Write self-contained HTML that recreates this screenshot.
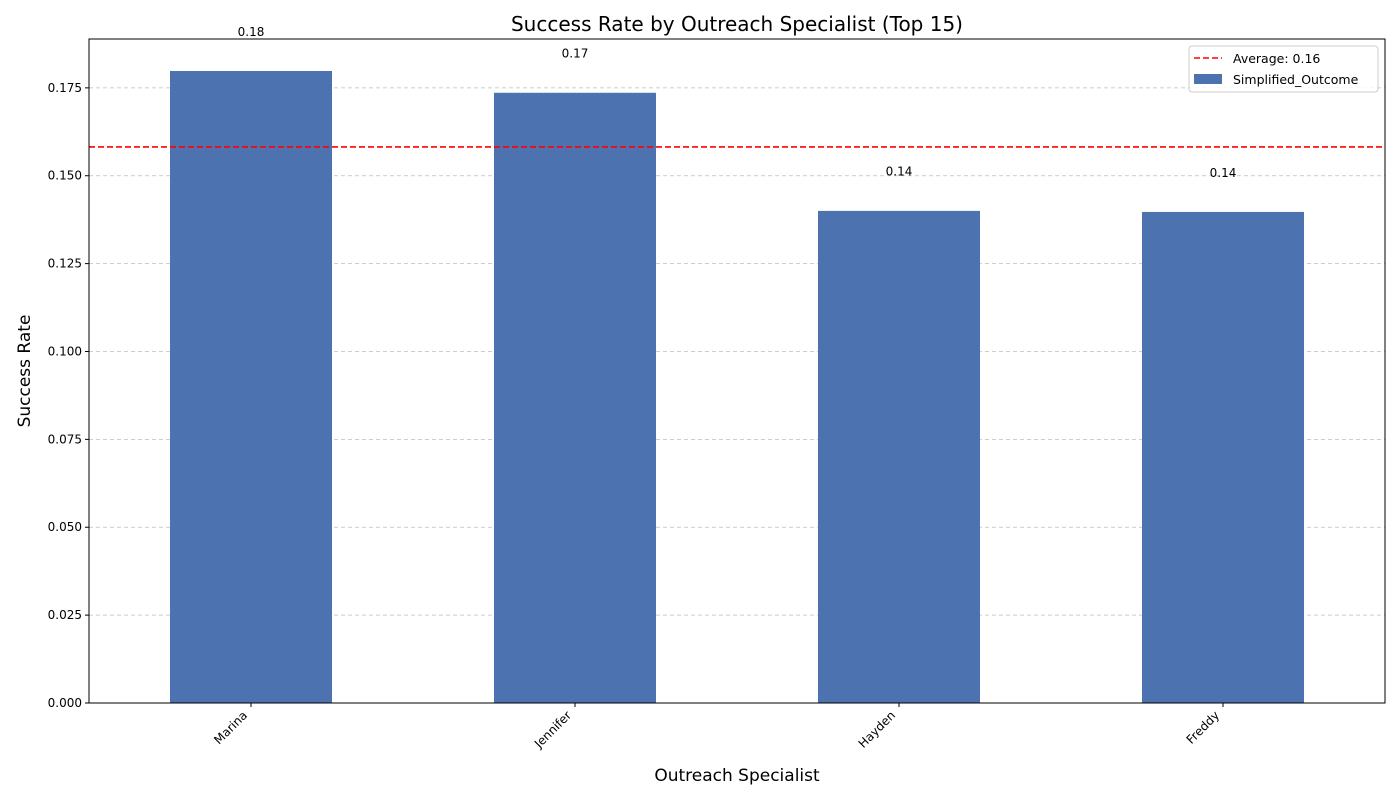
<!DOCTYPE html>
<html><head><meta charset="utf-8"><style>
body{margin:0;background:#fff;font-family:"DejaVu Sans","Liberation Sans",sans-serif;}
</style></head><body>
<svg id="c" width="1400" height="800" xmlns="http://www.w3.org/2000/svg" font-family="DejaVu Sans, Liberation Sans, sans-serif"></svg>
<script>
const categories=["Marina","Jennifer","Hayden","Freddy"];
const values=[0.1798,0.1736,0.1400,0.1397];
const labels=["0.18","0.17","0.14","0.14"];
const avgValue=0.1582;
const yTicks=[0,0.025,0.05,0.075,0.1,0.125,0.15,0.175];
const L=89,R=1385,T=39,B=703,yMax=0.1889;
const svg=document.getElementById('c');
const NS='http://www.w3.org/2000/svg';
function y(v){return B-(v/yMax)*(B-T);}
function x(i){return L+(R-L)/categories.length*(i+0.5);}
const bw=(R-L)/categories.length*0.5;
function mk(tag,attrs,txt){const e=document.createElementNS(NS,tag);for(const k in attrs)e.setAttribute(k,attrs[k]);if(txt!==undefined)e.textContent=txt;svg.appendChild(e);return e;}
let e;
yTicks.forEach(t=>{
 e=mk('line',{x1:L,x2:R,y1:y(t),y2:y(t),stroke:'#bdbdbd','stroke-dasharray':'4,3','stroke-width':0.8});
 
 
 e=mk('line',{x1:L-4,x2:L,y1:y(t),y2:y(t),stroke:'#000'});
 
 
 e=mk('text',{x:L-7,y:y(t)+4,'text-anchor':'end','font-size':12},t.toFixed(3));
 
 
});
categories.forEach((c,i)=>{
 e=mk('rect',{x:x(i)-bw/2,y:y(values[i]),width:bw,height:B-y(values[i]),fill:'#4c72b0'});
 
 
 e=mk('text',{x:x(i),y:y(values[i]+0.01),'text-anchor':'middle','font-size':12},labels[i]);
 
 
 e=mk('line',{x1:x(i),x2:x(i),y1:B,y2:B+4,stroke:'#000'});
 
 
 e=mk('text',{x:x(i)-3,y:B+13,'text-anchor':'end','font-size':12,transform:`rotate(-45 ${x(i)-3} ${B+13})`},c);
 
 
});
e=mk('line',{x1:L,x2:R,y1:y(avgValue),y2:y(avgValue),stroke:'#ff0000','stroke-width':1.6,'stroke-dasharray':'6,3'});


e=mk('rect',{x:L,y:T,width:R-L,height:B-T,fill:'none',stroke:'#000','stroke-width':1});


e=mk('text',{x:737,y:31,'text-anchor':'middle','font-size':20},'Success Rate by Outreach Specialist (Top 15)');


e=mk('text',{x:737,y:781,'text-anchor':'middle','font-size':17},'Outreach Specialist');


e=mk('text',{x:30,y:371,'text-anchor':'middle','font-size':17,transform:'rotate(-90 30 371)'},'Success Rate');


e=mk('rect',{x:1189,y:46,width:189,height:46,rx:3,fill:'#fff','fill-opacity':0.8,stroke:'#ccc'});


e=mk('line',{x1:1194,x2:1222,y1:58,y2:58,stroke:'#ff0000','stroke-width':1.6,'stroke-dasharray':'6,3'});


e=mk('text',{x:1233,y:63,'font-size':12.5},'Average: 0.16');


e=mk('rect',{x:1194,y:74,width:28,height:10,fill:'#4c72b0'});


e=mk('text',{x:1233,y:84,'font-size':12.5},'Simplified_Outcome');


</script>
</body></html>
